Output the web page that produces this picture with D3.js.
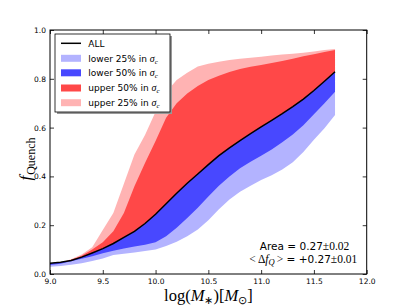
<!DOCTYPE html>
<html><head><meta charset="utf-8">
<script src="https://cdn.jsdelivr.net/npm/d3@7"></script>
<style>body{margin:0;background:#fff}svg{display:block}</style>
</head><body>
<svg id="c" width="407" height="305"></svg>
<script>
const mass = [9.0,9.1,9.2,9.3,9.4,9.5,9.6,9.7,9.8,9.9,10.0,10.1,10.2,10.3,10.4,10.5,10.6,10.7,10.8,10.9,11.0,11.1,11.2,11.3,11.4,11.5,11.6,11.7];
const fAll = [0.044,0.048,0.055,0.069,0.086,0.104,0.125,0.150,0.175,0.207,0.245,0.288,0.331,0.372,0.410,0.448,0.485,0.517,0.547,0.575,0.603,0.630,0.657,0.686,0.717,0.752,0.790,0.829];
const upper50 = [0.042,0.047,0.058,0.075,0.100,0.130,0.175,0.250,0.360,0.455,0.545,0.640,0.700,0.740,0.770,0.795,0.813,0.828,0.840,0.849,0.857,0.865,0.873,0.882,0.892,0.901,0.910,0.918];
const upper25 = [0.042,0.047,0.060,0.080,0.110,0.180,0.250,0.370,0.490,0.570,0.665,0.745,0.795,0.825,0.850,0.862,0.870,0.877,0.882,0.886,0.890,0.895,0.900,0.903,0.907,0.912,0.918,0.922];
const lower50 = [0.037,0.042,0.052,0.062,0.073,0.085,0.095,0.105,0.113,0.120,0.130,0.155,0.190,0.230,0.272,0.318,0.362,0.400,0.433,0.460,0.485,0.510,0.540,0.572,0.610,0.655,0.700,0.747];
const lower25 = [0.030,0.033,0.038,0.044,0.053,0.064,0.078,0.083,0.088,0.094,0.100,0.115,0.132,0.155,0.182,0.220,0.265,0.305,0.337,0.362,0.385,0.405,0.428,0.458,0.500,0.550,0.597,0.652];
const xTicks = [9.0,9.5,10.0,10.5,11.0,11.5,12.0];
const yTicks = [0.0,0.2,0.4,0.6,0.8,1.0];
const legendLabels = ["ALL","lower 25% in","lower 50% in","upper 50% in","upper 25% in"];

const svg = d3.select("#c");
const L=50, R=366.7, T=30, B=274;
const x = d3.scaleLinear().domain([9,12]).range([L,R]);
const y = d3.scaleLinear().domain([0,1]).range([B,T]);
const idx = d3.range(mass.length);

const C = {lb:"#b3b3ff", b:"#4848ff", r:"#ff4848", p:"#ffb3b3"};
function band(lo, hi, col){
  svg.append("path").datum(idx)
    .attr("d", d3.area().x(i=>x(mass[i])).y0(i=>y(lo[i])).y1(i=>y(hi[i])))
    .attr("fill", col);
}
band(fAll, upper25, C.p);
band(fAll, upper50, C.r);
band(lower25, fAll, C.lb);
band(lower50, fAll, C.b);
svg.append("path").datum(idx)
  .attr("d", d3.line().x(i=>x(mass[i])).y(i=>y(fAll[i])))
  .attr("fill","none").attr("stroke","#000").attr("stroke-width",1.5);

// axes
const fmt = d3.format(".1f");
const gb = svg.append("g").attr("transform",`translate(0,${B})`)
  .call(d3.axisBottom(x).tickValues(xTicks).tickFormat(fmt).tickSize(-4).tickPadding(5));
const gt = svg.append("g").attr("transform",`translate(0,${T})`)
  .call(d3.axisTop(x).tickValues(xTicks).tickFormat("").tickSize(-4));
const gl = svg.append("g").attr("transform",`translate(${L},0)`)
  .call(d3.axisLeft(y).tickValues(yTicks).tickFormat(fmt).tickSize(-4).tickPadding(4));
const gr = svg.append("g").attr("transform",`translate(${R},0)`)
  .call(d3.axisRight(y).tickValues(yTicks).tickFormat("").tickSize(-4));
[gb,gt,gl,gr].forEach(g=>{
  g.select(".domain").remove();
  g.selectAll("line").attr("stroke","#000").attr("stroke-width",0.8);
  g.selectAll("text").attr("font-family","DejaVu Sans").attr("font-size",7.5).attr("fill","#000");
});
svg.append("rect").attr("x",L).attr("y",T).attr("width",R-L).attr("height",B-T)
  .attr("fill","none").attr("stroke","#000").attr("stroke-width",1);

// legend
const lg = svg.append("g");
lg.append("rect").attr("x",57).attr("y",36).attr("width",115).attr("height",78).attr("fill","#999");
lg.append("rect").attr("x",55).attr("y",34).attr("width",115).attr("height",78).attr("fill","#fff").attr("stroke","#000").attr("stroke-width",0.8);
const ly = [43.3,58.3,72.8,88,102.7];
const lcols = [null, C.lb, C.b, C.r, C.p];
legendLabels.forEach((t,i)=>{
  if(i===0){
    lg.append("line").attr("x1",61).attr("x2",81).attr("y1",ly[i]).attr("y2",ly[i]).attr("stroke","#000").attr("stroke-width",1.5);
  } else {
    lg.append("rect").attr("x",61).attr("y",ly[i]-3.5).attr("width",20).attr("height",7).attr("fill",lcols[i]);
  }
  const tx = lg.append("text").attr("x",88.3).attr("y",ly[i]+3.3).attr("font-family","DejaVu Sans").attr("font-size",9).attr("fill","#000");
  tx.append("tspan").text(t);
  if(i>0){
    tx.append("tspan").attr("dx",3).attr("font-family","Liberation Serif").attr("font-style","italic").attr("font-size",10).text("σ");
    tx.append("tspan").attr("dy",2).attr("font-family","Liberation Serif").attr("font-style","italic").attr("font-size",7).text("c");
  }
});

// annotation
const a1 = svg.append("text").attr("x",349.3).attr("y",249.5).attr("text-anchor","end").attr("font-family","DejaVu Sans").attr("font-size",10.5).attr("fill","#000");
a1.append("tspan").text("Area = 0.27");
a1.append("tspan").attr("font-family","Liberation Serif").attr("font-size",11.5).text("±0.02");
const a2 = svg.append("text").attr("x",357.3).attr("y",262.5).attr("text-anchor","end").attr("font-family","Liberation Serif").attr("font-size",11.5).attr("fill","#000");
a2.append("tspan").text("<\u2009Δ");
a2.append("tspan").attr("font-style","italic").text("f");
a2.append("tspan").attr("font-style","italic").attr("font-size",8.5).attr("dy",2.5).text("Q");
a2.append("tspan").attr("dy",-2.5).attr("dx",2).text(">");
a2.append("tspan").attr("font-family","DejaVu Sans").attr("font-size",10.5).text(" = +0.27");
a2.append("tspan").text("±0.01");

// axis labels
const xl = svg.append("text").attr("x",(L+R)/2).attr("y",300.5).attr("text-anchor","middle")
  .attr("font-family","Liberation Serif").attr("font-size",16.5).attr("fill","#000");
xl.append("tspan").text("log(");
xl.append("tspan").attr("font-style","italic").text("M");
xl.append("tspan").attr("font-size",11).attr("dy",3).text("∗");
xl.append("tspan").attr("dy",-3).text(")[");
xl.append("tspan").attr("font-style","italic").text("M");
xl.append("tspan").attr("font-size",11).attr("dy",3).text("⊙");
xl.append("tspan").attr("dy",-3).text("]");

const yl = svg.append("text").attr("transform",`translate(31,159) rotate(-90)`).attr("text-anchor","middle")
  .attr("font-family","Liberation Serif").attr("font-size",17).attr("fill","#000");
yl.append("tspan").attr("font-style","italic").text("f");
yl.append("tspan").attr("font-size",12).attr("dy",3.5).attr("dx",1).text("Quench");
</script>
</body></html>
